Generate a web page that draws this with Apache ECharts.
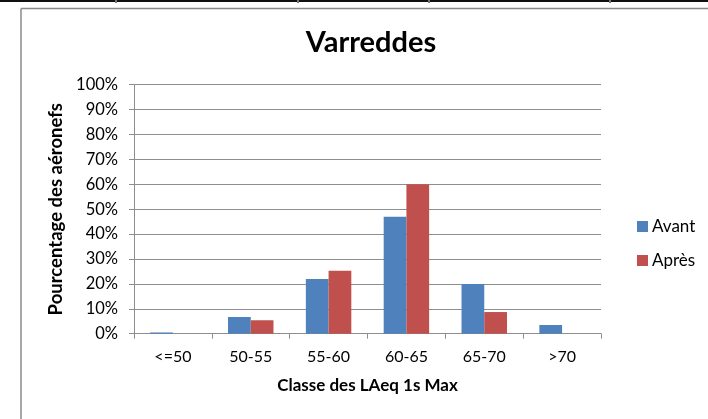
<!DOCTYPE html>
<html>
<head>
<meta charset="utf-8">
<title>Varreddes</title>
<script src="https://cdn.jsdelivr.net/npm/echarts@6/dist/echarts.min.js"></script>
<style>
  html, body { margin: 0; padding: 0; background: #fff; }
  #chart { width: 708px; height: 419px; }
</style>
</head>
<body>
<div id="chart"></div>
<script>
// Classes of LAeq 1s Max (dB) and share of aircraft per class, in percent
const categories = ['<=50', '50-55', '55-60', '60-65', '65-70', '>70'];
const avant = [0.5, 6.7, 22, 47, 20, 3.5];
const apres = [0, 5.4, 25.3, 60, 8.7, 0];
const yTicks = { min: 0, max: 100, interval: 10 };

const FONT = 'Lato, "Open Sans", sans-serif';
const GRID_COLOR = '#8e8e8e';

const chart = echarts.init(document.getElementById('chart'), null, { renderer: 'canvas' });

chart.setOption({
  backgroundColor: '#ffffff',
  animation: false,
  title: {
    text: 'Varreddes',
    left: 366,
    top: 23,
    textAlign: 'center',
    textStyle: { fontFamily: FONT, fontSize: 29, fontWeight: 'bold', color: '#000' }
  },
  legend: {
    orient: 'vertical',
    left: 632,
    top: 213,
    itemWidth: 11,
    itemHeight: 11,
    itemGap: 17,
    icon: 'rect',
    textStyle: { fontFamily: FONT, fontSize: 17, color: '#000', padding: [0, 0, 0, -1] },
    data: ['Avant', 'Après']
  },
  grid: { left: 134, right: 107, top: 84.7, bottom: 85.3, containLabel: false },
  xAxis: {
    type: 'category',
    data: categories,
    name: 'Classe des LAeq 1s Max',
    nameLocation: 'middle',
    nameGap: 43,
    nameTextStyle: { fontFamily: FONT, fontSize: 17, fontWeight: 'bold', color: '#000' },
    axisLine: { lineStyle: { color: GRID_COLOR, width: 1 } },
    axisTick: { show: true, length: 5, lineStyle: { color: GRID_COLOR } },
    axisLabel: { fontFamily: FONT, fontSize: 16, color: '#000', margin: 15 },
    splitLine: { show: false }
  },
  yAxis: {
    type: 'value',
    min: yTicks.min,
    max: yTicks.max,
    interval: yTicks.interval,
    name: 'Pourcentage des aéronefs',
    nameLocation: 'middle',
    nameGap: 67,
    nameTextStyle: { fontFamily: FONT, fontSize: 18.5, fontWeight: 'bold', color: '#000' },
    axisLine: { show: true, lineStyle: { color: GRID_COLOR, width: 1 } },
    axisTick: { show: true, length: 5, lineStyle: { color: GRID_COLOR } },
    axisLabel: { fontFamily: FONT, fontSize: 16.5, color: '#000', margin: 16, formatter: '{value}%' },
    splitLine: { show: true, lineStyle: { color: GRID_COLOR, width: 1 } }
  },
  series: [
    {
      name: 'Avant',
      type: 'bar',
      data: avant,
      barGap: '0%',
      barCategoryGap: '41.6%',
      itemStyle: { color: '#4f81bd' }
    },
    {
      name: 'Après',
      type: 'bar',
      data: apres,
      itemStyle: { color: '#c0504d' }
    }
  ],
  graphic: [
    // frame of the chart area
    { type: 'line', shape: { x1: 21, y1: 8.5, x2: 708, y2: 8.5 }, style: { stroke: '#8a8a8a', lineWidth: 1.5 }, silent: true },
    { type: 'line', shape: { x1: 21, y1: 8.5, x2: 21, y2: 419 }, style: { stroke: '#8a8a8a', lineWidth: 1.5 }, silent: true },
    // table rule above the chart
    { type: 'rect', shape: { x: 0, y: 0, width: 708, height: 2 }, style: { fill: '#111' }, silent: true },
    { type: 'rect', shape: { x: 115, y: 0, width: 2, height: 3 }, style: { fill: '#777' }, silent: true },
    { type: 'rect', shape: { x: 297, y: 0, width: 2, height: 3 }, style: { fill: '#777' }, silent: true },
    { type: 'rect', shape: { x: 428, y: 0, width: 2, height: 3 }, style: { fill: '#777' }, silent: true },
    { type: 'rect', shape: { x: 609, y: 0, width: 2, height: 3 }, style: { fill: '#777' }, silent: true }
  ]
});
</script>
</body>
</html>
